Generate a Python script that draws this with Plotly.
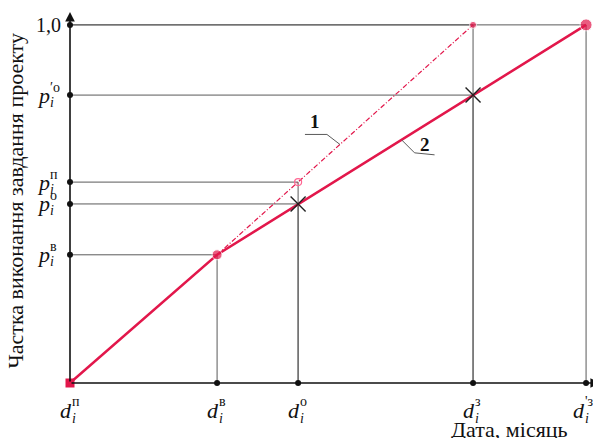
import plotly.graph_objects as go

# Дати на осі абсцис (умовні одиниці) і їх підписи
x_ticks = [0.0, 2.85, 4.42, 7.81, 10.0]
x_sups = ["п", "в", "о", "з", "'з"]

# Частка виконання на осі ординат і підписи
y_ticks = [0.358, 0.50, 0.561, 0.804]
y_sups = ["в", "о", "п", "′о"]
y_top = 1.0

# Лінія 1 (планова) і лінія 2 (фактична)
line1_x = [0.0, 2.85, 7.81]
line1_y = [0.0, 0.358, 1.0]
line2_x = [0.0, 2.85, 10.0]
line2_y = [0.0, 0.358, 1.0]

# Контрольні точки
cross_x = [4.42, 7.81]
cross_y = [0.50, 0.804]
circle_x = [4.42]
circle_y = [0.561]

# Допоміжні (сірі) лінії до точок
guide_x = [2.85, 4.42, 4.42, 7.81, 7.81, 10.0]
guide_y = [0.358, 0.50, 0.561, 0.804, 1.0, 1.0]

RED = "#e2174b"
GRAY = "#5a5a5a"
SERIF = "Liberation Serif"

# the page body has an 8px margin, so the figure is a bit smaller than the window
W, H = 593, 430
ML, MR, MT, MB = 62, 1, 4, 55
X_MAX, Y_MAX = 10.27, 1.036
kx = (W - ML - MR) / X_MAX
ky = (H - MT - MB) / Y_MAX

fig = go.Figure()

# grey guide lines
gx, gy = [], []
for x, y in zip(guide_x, guide_y):
    gx += [0, x, None, x, x, None]
    gy += [y, y, None, 0, y, None]
fig.add_trace(go.Scatter(x=gx, y=gy, mode="lines",
                         line=dict(color=GRAY, width=1), hoverinfo="skip"))

# line 1: dashed part after the shared point
fig.add_trace(go.Scatter(x=line1_x[1:], y=line1_y[1:], mode="lines",
                         line=dict(color=RED, width=1.2, dash="5px,2px,1px,2px"),
                         hoverinfo="skip"))
# line 2
fig.add_trace(go.Scatter(x=line2_x, y=line2_y, mode="lines",
                         line=dict(color=RED, width=2.5), hoverinfo="skip"))

# red points
fig.add_trace(go.Scatter(x=[line2_x[0]], y=[line2_y[0]], mode="markers",
                         marker=dict(symbol="square", size=9, color=RED), cliponaxis=False))
fig.add_trace(go.Scatter(x=[line2_x[1], line1_x[2], line2_x[2]],
                         y=[line2_y[1], line1_y[2], line2_y[2]], mode="markers",
                         marker=dict(size=[10, 7, 12], color=RED), cliponaxis=False))

# crosses and open circle
fig.add_trace(go.Scatter(x=cross_x, y=cross_y, mode="markers",
                         marker=dict(symbol="x-thin", size=15,
                                     line=dict(color="#222", width=1.4))))
fig.add_trace(go.Scatter(x=circle_x, y=circle_y, mode="markers",
                         marker=dict(symbol="circle-open", size=7,
                                     line=dict(color="#444", width=1.2))))

# tick dots on axes
fig.add_trace(go.Scatter(x=x_ticks[1:], y=[0] * (len(x_ticks) - 1), mode="markers",
                         marker=dict(size=6, color="#111"), cliponaxis=False))
fig.add_trace(go.Scatter(x=[0] * (len(y_ticks) + 1), y=y_ticks + [y_top], mode="markers",
                         marker=dict(size=6, color="#111"), cliponaxis=False))

ann = []
# axis arrows
ann.append(dict(x=X_MAX, y=0, ax=0, ay=0, axref="x", ayref="y", xref="x", yref="y",
                showarrow=True, arrowhead=2, arrowsize=1.2, arrowwidth=1.6,
                arrowcolor="#111", text=""))
ann.append(dict(x=0, y=Y_MAX, ax=0, ay=0, axref="x", ayref="y", xref="x", yref="y",
                showarrow=True, arrowhead=2, arrowsize=1.2, arrowwidth=1.6,
                arrowcolor="#111", text=""))

# x tick labels d_i^...
for k, (x, s) in enumerate(zip(x_ticks, x_sups)):
    dx = -3 if k == len(x_ticks) - 1 else 0  # last one sits against the edge
    ann.append(dict(x=x, y=0, text="<i>d</i>", xanchor="right", yanchor="middle",
                    xshift=4 + dx, yshift=-27, showarrow=False,
                    font=dict(family=SERIF, size=22, color="#111")))
    ann.append(dict(x=x, y=0, text=s, xanchor="left", yanchor="middle",
                    xshift=0 + dx, yshift=-18, showarrow=False,
                    font=dict(family=SERIF, size=14, color="#111")))
    ann.append(dict(x=x, y=0, text="<i>i</i>", xanchor="left", yanchor="middle",
                    xshift=0 + dx, yshift=-35, showarrow=False,
                    font=dict(family=SERIF, size=14, color="#111")))

# y tick labels p_i^...
for y, s in zip(y_ticks, y_sups):
    ann.append(dict(x=0, y=y, text="<i>p</i>", xanchor="right", yanchor="middle",
                    xshift=-18, yshift=0, showarrow=False,
                    font=dict(family=SERIF, size=22, color="#111")))
    ann.append(dict(x=0, y=y, text=s, xanchor="left", yanchor="middle",
                    xshift=-22, yshift=8, showarrow=False,
                    font=dict(family=SERIF, size=14, color="#111")))
    ann.append(dict(x=0, y=y, text="<i>i</i>", xanchor="left", yanchor="middle",
                    xshift=-22, yshift=-7, showarrow=False,
                    font=dict(family=SERIF, size=14, color="#111")))
ann.append(dict(x=0, y=y_top, text="1,0", xanchor="right", yanchor="middle",
                xshift=-7, showarrow=False, font=dict(family=SERIF, size=20, color="#111")))

# axis titles
ann.append(dict(x=0, y=0.5, xref="paper", yref="paper", text="Частка виконання завдання проекту",
                textangle=-90, xanchor="center", yanchor="middle", xshift=-55, yshift=-4,
                showarrow=False, font=dict(family=SERIF, size=22, color="#111")))
ann.append(dict(x=0.83, y=0, xref="paper", yref="paper", text="Дата, місяць",
                xanchor="center", yanchor="middle", yshift=-46, showarrow=False,
                font=dict(family=SERIF, size=22, color="#111")))

# labels 1 and 2 with leader lines (offsets in pixels from a point on each line)
def leader(x0, y0, pts):
    xs = [x0 + dx / kx for dx, dy in pts]
    ys = [y0 - dy / ky for dx, dy in pts]
    fig.add_trace(go.Scatter(x=xs, y=ys, mode="lines",
                             line=dict(color=GRAY, width=1), hoverinfo="skip"))

t1 = 0.48
p1x = line1_x[1] + t1 * (line1_x[2] - line1_x[1])
p1y = line1_y[1] + t1 * (line1_y[2] - line1_y[1])
leader(p1x, p1y, [(0, 0), (-13, -10), (-35, -10)])
ann.append(dict(x=p1x, y=p1y, text="<b>1</b>", xshift=-25, yshift=23, showarrow=False,
                font=dict(family=SERIF, size=19, color="#111")))

t2 = 0.50
p2x = line2_x[1] + t2 * (line2_x[2] - line2_x[1])
p2y = line2_y[1] + t2 * (line2_y[2] - line2_y[1])
leader(p2x, p2y, [(0, 0), (13, 13), (33, 15)])
ann.append(dict(x=p2x, y=p2y, text="<b>2</b>", xshift=23, yshift=-5, showarrow=False,
                font=dict(family=SERIF, size=19, color="#111")))

fig.update_layout(
    width=W, height=H,
    margin=dict(l=ML, r=MR, t=MT, b=MB),
    plot_bgcolor="white", paper_bgcolor="white",
    showlegend=False,
    annotations=ann,
    xaxis=dict(range=[0, X_MAX], visible=False, fixedrange=True),
    yaxis=dict(range=[0, Y_MAX], visible=False, fixedrange=True),
)

fig.write_html("out.html")
